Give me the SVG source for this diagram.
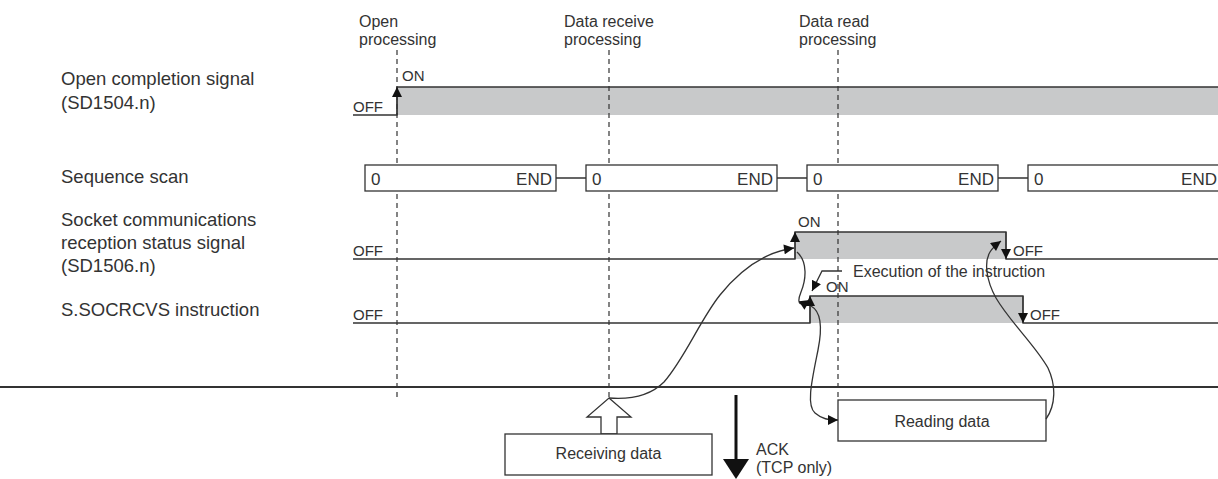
<svg xmlns="http://www.w3.org/2000/svg" width="1218" height="479" viewBox="0 0 1218 479">
<defs>
<style>
.t{font-family:"Liberation Sans",Arial,sans-serif;fill:#333}
.lbl{font-size:18.5px}
.hdr{font-size:16px}
.s{font-size:15px}
.m{font-size:16px}
.ln{stroke:#333;stroke-width:1.3;fill:none}
.dash{stroke:#333;stroke-width:1.2;stroke-dasharray:5 4;fill:none}
.gray{fill:#c8c9ca}
.box{fill:#fff;stroke:#333;stroke-width:1.3}
</style>
<marker id="ah" viewBox="0 0 10 10" markerWidth="11" markerHeight="10" markerUnits="userSpaceOnUse" refX="10" refY="5" orient="auto">
<path d="M0,0 L10,5 L0,10 z" fill="#111"/>
</marker>
</defs>
<rect width="1218" height="479" fill="#fff"/>

<g id="row-labels">
<text class="t lbl" x="61" y="85">Open completion signal</text>
<text class="t lbl" x="61" y="109">(SD1504.n)</text>
<text class="t lbl" x="61" y="183">Sequence scan</text>
<text class="t lbl" x="61" y="226">Socket communications</text>
<text class="t lbl" x="61" y="249">reception status signal</text>
<text class="t lbl" x="61" y="272">(SD1506.n)</text>
<text class="t lbl" x="61" y="316">S.SOCRCVS instruction</text>
</g>

<g id="headers">
<text class="t hdr" x="359" y="27">Open</text>
<text class="t hdr" x="359" y="45">processing</text>
<text class="t hdr" x="564" y="27">Data receive</text>
<text class="t hdr" x="564" y="45">processing</text>
<text class="t hdr" x="799" y="27">Data read</text>
<text class="t hdr" x="799" y="45">processing</text>
</g>

<g id="gray-areas">
<rect class="gray" x="397" y="87" width="821" height="28"/>
<rect class="gray" x="795" y="232" width="211" height="27"/>
<rect class="gray" x="810" y="296" width="213" height="27"/>
</g>

<g id="guides">
<path class="dash" d="M397,50 V400"/>
<path class="dash" d="M609,50 V398"/>
<path class="dash" d="M838,50 V400"/>
</g>

<g id="open-signal">
<path class="ln" d="M353,115 H397 V87 H1218"/>
<path class="ln" d="M397,115 V87" marker-end="url(#ah)"/>
<text class="t s" x="402" y="81">ON</text>
<text class="t s" x="353" y="112">OFF</text>
</g>

<g id="sequence-scan">
<path class="ln" d="M556,178 H586 M777,178 H807 M998,178 H1028"/>
<rect class="box" x="365" y="165" width="191" height="26"/>
<rect class="box" x="586" y="165" width="191" height="26"/>
<rect class="box" x="807" y="165" width="191" height="26"/>
<rect class="box" x="1028" y="165" width="200" height="26"/>
<text class="t" style="font-size:17px" x="371" y="185">0</text>
<text class="t" style="font-size:17px" x="552" y="185" text-anchor="end">END</text>
<text class="t" style="font-size:17px" x="592" y="185">0</text>
<text class="t" style="font-size:17px" x="773" y="185" text-anchor="end">END</text>
<text class="t" style="font-size:17px" x="813" y="185">0</text>
<text class="t" style="font-size:17px" x="994" y="185" text-anchor="end">END</text>
<text class="t" style="font-size:17px" x="1034" y="185">0</text>
<text class="t" style="font-size:17px" x="1217" y="185" text-anchor="end">END</text>
</g>

<g id="socket-signal">
<path class="ln" d="M353,259 H795 V232 H1006 V259 H1218"/>
<path class="ln" d="M795,259 V232" marker-end="url(#ah)"/>
<path class="ln" d="M1006,232 V259" marker-end="url(#ah)"/>
<text class="t s" x="798" y="227">ON</text>
<text class="t s" x="353" y="256">OFF</text>
<text class="t s" x="1013" y="256">OFF</text>
</g>

<g id="socrcvs-signal">
<path class="ln" d="M353,323 H810 V296 H1023 V323 H1218"/>
<path class="ln" d="M810,323 V296" marker-end="url(#ah)"/>
<path class="ln" d="M1023,296 V323" marker-end="url(#ah)"/>
<text class="t s" x="826" y="292">ON</text>
<text class="t s" x="353" y="320">OFF</text>
<text class="t s" x="1030" y="320">OFF</text>
<text class="t m" x="853" y="277">Execution of the instruction</text>
</g>

<g id="separator">
<path d="M0,387 H1218" stroke="#333" stroke-width="2.2"/>
</g>

<g id="receiving-data">
<polygon class="box" points="609,398 631,417 617,417 617,434 601,434 601,417 587,417"/>
<rect class="box" x="505" y="434" width="207" height="41"/>
<text class="t m" x="608.5" y="459" text-anchor="middle">Receiving data</text>
</g>

<g id="ack">
<path d="M736,395 V461" stroke="#111" stroke-width="3"/>
<polygon points="723,459 749,459 736,479" fill="#111"/>
<text class="t m" x="756" y="455">ACK</text>
<text class="t m" x="756" y="473">(TCP only)</text>
</g>

<g id="reading-data">
<rect class="box" x="838" y="400" width="208" height="41"/>
<text class="t m" x="942" y="427" text-anchor="middle">Reading data</text>
</g>

<g id="connectors">
<path class="ln" d="M609,398 C635,400 652,394 664,382 C685,358 700,320 720,295 C740,270 765,252 794,248" marker-end="url(#ah)"/>
<path class="ln" d="M797,252 C808,262 806,280 801,292 C797,302 798,308 810,300" marker-end="url(#ah)"/>
<path class="ln" d="M811,306 C822,312 822,330 818,350 C812,380 806,405 815,413 C822,419 828,420 838,420" marker-end="url(#ah)"/>
<path class="ln" d="M1046,419 C1056,405 1056,385 1048,368 C1035,345 1010,322 996,298 C986,280 984,262 990,252 C993,247 997,244 1001,241" marker-end="url(#ah)"/>
<path class="ln" d="M842,271 H822 L812,291" marker-end="url(#ah)"/>
</g>
</svg>
